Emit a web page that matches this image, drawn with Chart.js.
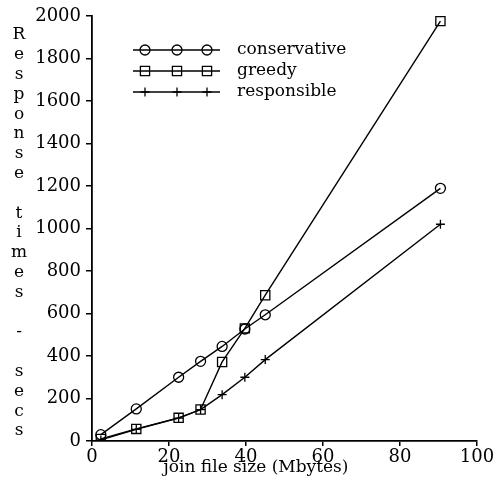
<!DOCTYPE html>
<html>
<head>
<meta charset="utf-8">
<script src="https://cdn.jsdelivr.net/npm/chart.js@4"></script>
<style>
html,body{margin:0;padding:0;background:#fff;}
#wrap{width:496px;height:489px;position:relative;}
</style>
</head>
<body>
<div id="wrap"><canvas id="c" width="496" height="489"></canvas></div>
<script>
const fileSizes = [2.3, 11.5, 22.5, 28.2, 33.8, 39.7, 45, 90.5];
const conservative = [30, 151, 300, 375, 445, 527, 594, 1189];
const greedy = [10, 57, 109, 148, 372, 530, 686, 1976];
const responsible = [5, 55, 108, 148, 218, 300, 383, 1020];
const seriesNames = ['conservative', 'greedy', 'responsible'];
const xTitle = 'join file size (Mbytes)';
const yTitle = 'Response times - secs';

const SERIF = '"DejaVu Serif", "Liberation Serif", serif';

function pts(ys){ return fileSizes.map((x,i)=>({x:x, y:ys[i]})); }

const styles = [
  {pointStyle:'circle', pointRadius:5},
  {pointStyle:'rect', pointRadius:6.5},
  {pointStyle:'cross', pointRadius:4.5}
];
const allSeries = [conservative, greedy, responsible];

const datasets = allSeries.map((s,i)=>({
  label: seriesNames[i],
  data: pts(s),
  borderColor:'#000',
  backgroundColor:'rgba(0,0,0,0)',
  borderWidth:1.4,
  pointBorderColor:'#000',
  pointBackgroundColor:'rgba(0,0,0,0)',
  pointBorderWidth:1.3,
  pointStyle: styles[i].pointStyle,
  pointRadius: styles[i].pointRadius,
  tension:0
}));

const decor = {
  id:'decor',
  afterDraw(chart){
    const ctx = chart.ctx;
    ctx.save();
    ctx.fillStyle = '#000';
    ctx.strokeStyle = '#000';
    // legend
    const legY = [50, 71, 92];
    ctx.textBaseline = 'middle';
    ctx.textAlign = 'left';
    chart.data.datasets.forEach((ds,i)=>{
      const y = legY[i];
      ctx.lineWidth = 1.4;
      ctx.strokeStyle = '#000';
      ctx.beginPath(); ctx.moveTo(133,y); ctx.lineTo(220,y); ctx.stroke();
      [145,177,207].forEach(x=>{
        ctx.save();
        ctx.lineWidth = 1.3;
        ctx.fillStyle = 'rgba(0,0,0,0)';
        ctx.strokeStyle = '#000';
        Chart.helpers.drawPoint(ctx, {pointStyle: ds.pointStyle, radius: ds.pointRadius, borderWidth:1.3, rotation:0}, x, y);
        ctx.restore();
      });
      ctx.fillStyle = '#000';
      ctx.font = '17px ' + SERIF;
      ctx.fillText(ds.label, 237, y);
    });
    // y title: stacked letters
    ctx.fillStyle = '#000';
    ctx.font = '17px ' + SERIF;
    ctx.textAlign = 'center';
    ctx.textBaseline = 'middle';
    const chars = yTitle.split('');
    const y0 = 35, y1 = 431;
    const step = (y1 - y0) / (chars.length - 1);
    chars.forEach((ch,i)=>{ if (ch !== ' ') ctx.fillText(ch, 19, y0 + i*step); });
    // x title
    ctx.textAlign = 'center';
    ctx.textBaseline = 'alphabetic';
    ctx.fillText(xTitle, 256, 472);
    ctx.restore();
  }
};

new Chart(document.getElementById('c'), {
  type:'line',
  data:{datasets:datasets},
  options:{
    responsive:false,
    animation:false,
    devicePixelRatio:1,
    layout:{padding:{left:0, right:19, top:16, bottom:0}},
    plugins:{legend:{display:false}, tooltip:{enabled:false}},
    scales:{
      x:{
        type:'linear', min:0, max:100,
        afterFit(s){ s.height = 48; },
        grid:{display:true, drawOnChartArea:false, drawTicks:true, tickLength:5, color:'#000', lineWidth:1.5},
        border:{display:true, color:'#000', width:1.8},
        ticks:{stepSize:20, color:'#000', padding:1, maxRotation:0, font:{family:SERIF, size:18},
               callback:(v)=>String(v)}
      },
      y:{
        type:'linear', min:0, max:2000,
        afterFit(s){ s.width = 92; },
        grid:{display:true, drawOnChartArea:false, drawTicks:true, tickLength:6, color:'#000', lineWidth:1.5},
        border:{display:true, color:'#000', width:1.8},
        ticks:{stepSize:200, color:'#000', padding:5, font:{family:SERIF, size:18},
               callback:(v)=>String(v)}
      }
    }
  },
  plugins:[decor]
});
</script>
</body>
</html>
